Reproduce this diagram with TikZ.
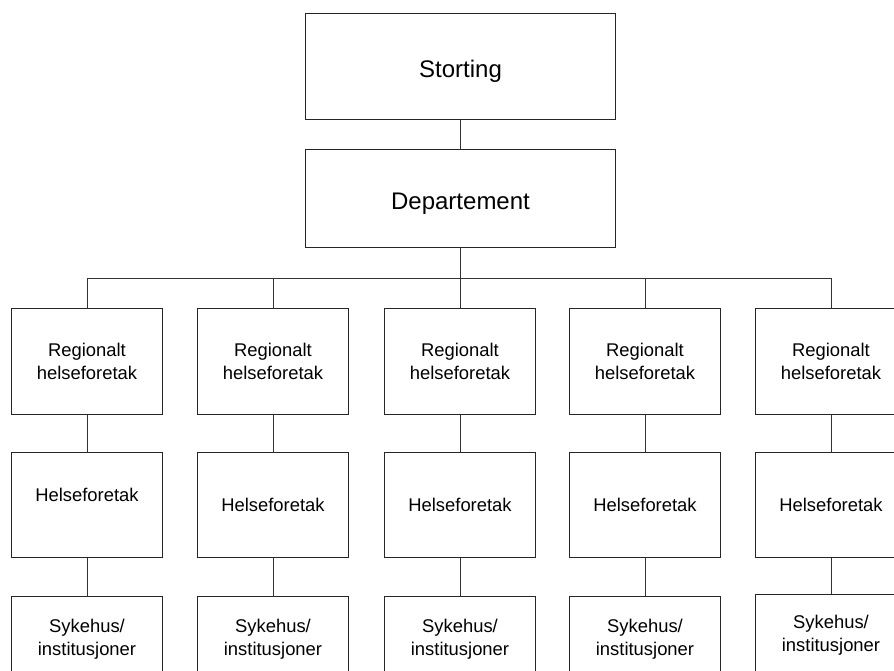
\documentclass[tikz,border=0pt]{standalone}
\usepackage{fontspec}
\setmainfont{Liberation Sans}
\begin{document}
\begin{tikzpicture}[x=0.75pt, y=-0.75pt,
  line width=0.75pt,
  box/.style={draw=black!85, rectangle, inner sep=0pt, align=center,
    font=\fontsize{13.8}{17}\selectfont, minimum width=113.25pt},
  topbox/.style={box, minimum width=233pt, font=\fontsize{18}{21}\selectfont,
    text height=20pt, text depth=3.75pt},
  link/.style={draw=black!80}]
\useasboundingbox (0,0) rectangle (894,671);
\clip (0,0) rectangle (894,671);
\fill[white] (0,0) rectangle (894,671);

% upper levels
\node[topbox, minimum height=79.3pt] (st) at (460.5,66.2) {Storting};
\node[topbox, minimum height=73.5pt] (dep) at (460.5,198.7) {Departement};
\coordinate (busc) at (460.5,278.3);

% five columns: regional, hospital trust, hospitals
\foreach \i/\cx in {1/87, 2/273, 3/460, 4/645, 5/831} {
  \node[box, minimum height=79.5pt] (r\i) at (\cx,361.3) {Regionalt\\helseforetak};
}
\node[box, minimum height=79pt, text depth=16pt] (h1) at (87,505) {Helseforetak};
\foreach \i/\cx in {2/273, 3/460, 4/645, 5/831} {
  \node[box, minimum height=79pt] (h\i) at (\cx,505) {Helseforetak};
}
\foreach \i/\cx in {1/87, 2/273, 3/460, 4/645} {
  \node[box, minimum height=64.5pt] (s\i) at (\cx,639) {Sykehus/\\institusjoner};
}
\node[box, minimum height=61.5pt] (s5) at (831,635) {Sykehus/\\institusjoner};

% connectors
\draw[link] (st.south) -- (dep.north);
\draw[link] (dep.south) -- (busc);
\draw[link] (r1.north) |- (busc) -| (r5.north);
\foreach \i in {2,3,4} {
  \draw[link] (busc -| r\i.north) -- (r\i.north);
}
\foreach \i in {1,...,5} {
  \draw[link] (r\i.south) -- (h\i.north);
  \draw[link] (h\i.south) -- (s\i.north);
}
\end{tikzpicture}
\end{document}
